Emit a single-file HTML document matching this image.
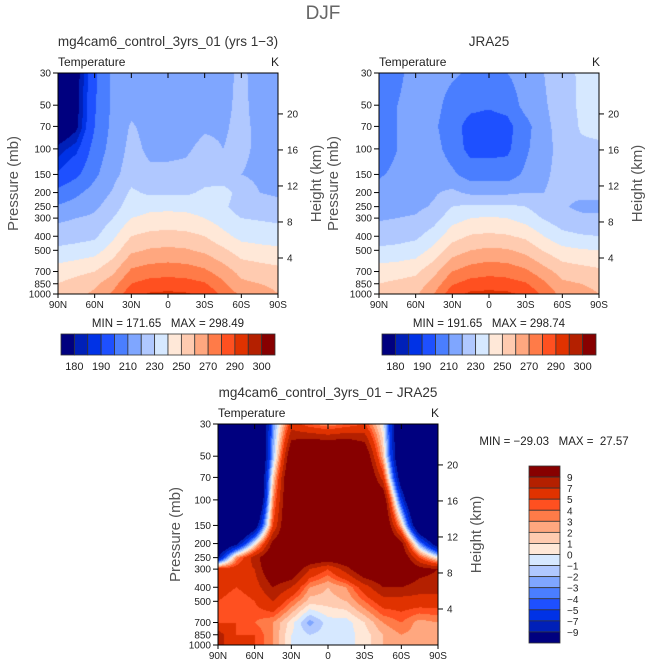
<!DOCTYPE html>
<html><head><meta charset="utf-8">
<style>
body{margin:0;background:#fff;width:647px;height:669px;overflow:hidden;position:relative;font-family:"Liberation Sans",sans-serif}
canvas{position:absolute}
svg{position:absolute;left:0;top:0}
</style></head>
<body>
<canvas id="c1" width="220" height="221" style="left:58px;top:73px"></canvas>
<canvas id="c2" width="220" height="221" style="left:379px;top:73px"></canvas>
<canvas id="c3" width="220" height="221" style="left:218px;top:424px"></canvas>
<svg id="s" width="647" height="669"></svg>
<script>
const lats=['90N','75N','60N','45N','30N','15N','0','15S','30S','45S','60S','75S','90S'];
const levels=[30,50,70,100,150,200,250,300,400,500,700,850,1000];
const pTicks=[30,50,70,100,150,200,250,300,400,500,700,850,1000];
const zTicks=[4,8,12,16,20];
const latTicks=['90N','60N','30N','0','30S','60S','90S'];
const tempLevels=[180,185,190,200,210,220,230,240,250,260,270,280,290,295,300];
const tempLabels=['180','190','210','230','250','270','290','300'];
const diffLevels=[-9,-7,-5,-4,-3,-2,-1,0,1,2,3,4,5,7,9];
const diffLabels=['9','7','5','4','3','2','1','0','−1','−2','−3','−4','−5','−7','−9'];
const palette=['#00007f','#0020b8','#0032e6','#1e50ff','#4a7eff','#7fa6ff','#b0c8ff','#d6e8ff','#ffe8d8','#ffcbb0','#ffa77f','#ff7b48','#ff5020','#e03200','#b42000','#870000'];
// rows = pressure levels (30..1000), cols = lats (90N..90S)
const model=[
[168,176,198,212,215,215,215,215,215,217,222,216,215],
[168,177,199,212,217,216,216,216,217,218,222,217,216],
[170,178,200,213,221,217,217,217,219,219,222,218,216],
[182,188,204,214,223,218,218,219,222,220,222,218,216],
[191,198,208,217,225,222,222,222,225,222,220,218,217],
[203,208,214,221,232,228,228,228,232,235,225,220,219],
[211,214,218,225,236,238,238,238,237,232,225,223,222],
[218,220,222,230,240,242,243,242,240,235,230,229,228],
[225,226,228,238,250,253,254,253,250,243,237,236,235],
[232,234,236,245,258,261,262,261,258,252,245,243,242],
[245,247,250,258,272,275,276,275,272,265,257,255,253],
[250,254,258,266,280,284,285,284,281,272,262,260,258],
[252,257,262,272,287,291,292,291,288,277,268,264,260]];
const jra=[
[207,207,215,215,212,208,208,210,215,220,225,232,234],
[208,210,216,214,205,202,201,203,214,219,224,232,234],
[207,210,216,212,203,197,196,197,206,218,223,231,233],
[205,210,216,214,205,197,197,198,208,218,222,228,228],
[209,212,216,217,212,205,205,205,212,219,222,224,225],
[213,215,217,219,222,218,218,218,220,220,222,222,223],
[216,217,218,221,230,232,232,232,230,224,221,218,217],
[219,220,221,226,236,240,241,240,236,229,224,222,222],
[225,226,228,235,246,251,252,251,248,240,233,231,230],
[232,233,235,243,255,260,262,261,257,249,243,241,240],
[245,246,248,257,270,275,277,276,272,264,256,254,252],
[250,252,254,264,279,284,285,284,281,272,262,260,258],
[252,255,258,270,287,292,293,292,288,277,267,263,260]];
const diff=[
[-20,-20,-20,-3,6,4,3,4,5,0,-15,-20,-20],
[-20,-20,-20,-2,12,15,15,15,12,2,-15,-20,-20],
[-20,-20,-20,1,14,18,18,18,14,6,-12,-20,-20],
[-20,-20,-20,3,14,20,20,20,14,12,-6,-20,-20],
[-20,-20,-12,5,14,18,18,18,14,14,2,-15,-20],
[-15,-10,0,10,12,12,12,12,14,14,10,-3,-12],
[-9,3,8,12,13,12,11,12,13,13,12,5,0],
[6,6,7,12,12,7,5,8,12,12,12,10,9],
[6,5,6,9,7,3,2,3,6,9,9,8,8],
[5,4,5,7,4,1.5,1.5,2,4,6,6,6,6],
[5,5,4,3,0.5,-2.5,-0.5,-0.5,1,3,4,2.5,3],
[8,5,5,3,0,-1,-0.5,-0.5,0.5,2,3,2.5,2],
[8,5,5,3,0,-1,-0.5,-0.5,0.5,2,3,2.5,2]];

const NS='http://www.w3.org/2000/svg';
const svg=document.getElementById('s');
function el(tag,attrs,parent){const e=document.createElementNS(NS,tag);for(const k in attrs)e.setAttribute(k,attrs[k]);(parent||svg).appendChild(e);return e;}
function txt(x,y,s,size,anchor,fill,rot){const t=el('text',{x:x,y:y,'font-size':size,'text-anchor':anchor||'middle',fill:fill||'#222','font-family':'Liberation Sans, sans-serif'});t.setAttribute('xml:space','preserve');t.style.whiteSpace='pre';if(rot)t.setAttribute('transform','rotate(-90 '+x+' '+y+')');t.textContent=s;return t;}
const LP0=Math.log(30),LP1=Math.log(1000);
function yOf(p,top,h){return top+(Math.log(p)-LP0)/(LP1-LP0)*h;}
function levIdx(v,lv){let i=0;while(i<lv.length&&v>=lv[i])i++;return i;}
function hex(c){return [parseInt(c.substr(1,2),16),parseInt(c.substr(3,2),16),parseInt(c.substr(5,2),16)];}
const rgb=palette.map(hex);
const lpl=levels.map(p=>Math.log(p));
function drawField(id,data,lv){
  const cv=document.getElementById(id),ctx=cv.getContext('2d');
  const W=cv.width,H=cv.height,img=ctx.createImageData(W,H);
  for(let py=0;py<H;py++){
    const lp=LP0+(py+0.5)/H*(LP1-LP0);
    let r=0;while(r<levels.length-2&&lp>lpl[r+1])r++;
    const fy=Math.min(1,Math.max(0,(lp-lpl[r])/(lpl[r+1]-lpl[r])));
    for(let px=0;px<W;px++){
      const lx=(px+0.5)/W*(lats.length-1);
      const c=Math.min(lats.length-2,Math.floor(lx)),fx=lx-c;
      const v=(data[r][c]*(1-fx)+data[r][c+1]*fx)*(1-fy)+(data[r+1][c]*(1-fx)+data[r+1][c+1]*fx)*fy;
      const col=rgb[levIdx(v,lv)],k=(py*W+px)*4;
      img.data[k]=col[0];img.data[k+1]=col[1];img.data[k+2]=col[2];img.data[k+3]=255;
    }
  }
  ctx.putImageData(img,0,0);
}
drawField('c1',model,tempLevels);
drawField('c2',jra,tempLevels);
drawField('c3',diff,diffLevels);

function axes(x0,y0,w,h,title,name,pressLabelX){
  const g=el('g',{});
  el('rect',{x:x0,y:y0,width:w,height:h,fill:'none',stroke:'#000','stroke-width':1},g);
  txt(x0+w/2,y0-27,title,13.5,'middle','#333');
  txt(x0,y0-7,'Temperature',12,'start','#222');
  txt(x0+w-3,y0-7,'K',12,'middle','#222');
  pTicks.forEach(p=>{const y=yOf(p,y0,h);
    el('line',{x1:x0-5,y1:y,x2:x0,y2:y,stroke:'#000'},g);
    txt(x0-7,y+3.5,String(p),10,'end','#222');});
  zTicks.forEach(z=>{const p=1000*Math.exp(-z/7),y=yOf(p,y0,h);
    el('line',{x1:x0+w,y1:y,x2:x0+w+5,y2:y,stroke:'#000'},g);
    txt(x0+w+9,y+3.5,String(z),10,'start','#222');});
  latTicks.forEach((l,i)=>{const x=x0+i*w/6;
    el('line',{x1:x,y1:y0+h,x2:x,y2:y0+h+4,stroke:'#000'},g);
    el('line',{x1:x,y1:y0,x2:x,y2:y0+5,stroke:'#000'},g);
    txt(x,y0+h+14,l,10,'middle','#222');});
  txt(pressLabelX,y0+h/2,'Pressure (mb)',15,'middle','#555',true);
  txt(x0+w+43,y0+h/2,'Height (km)',15,'middle','#555',true);
}
txt(323,19,'DJF',19,'middle','#666');
axes(58,73,220,221,'mg4cam6_control_3yrs_01 (yrs 1−3)','model',18);
axes(379,73,220,221,'JRA25','jra25',338);
axes(218,424,220,221,'mg4cam6_control_3yrs_01 − JRA25','difference',180);
txt(168,327,'MIN = 171.65   MAX = 298.49',11.5,'middle','#222');
txt(489,327,'MIN = 191.65   MAX = 298.74',11.5,'middle','#222');
txt(554,445,'MIN = −29.03   MAX =  27.57',11.5,'middle','#222');

function hbar(x0,y0,w,h,name){
  const g=el('g',{});
  const bw=w/palette.length;
  palette.forEach((c,i)=>{el('rect',{x:x0+i*bw,y:y0,width:bw,height:h,fill:c,stroke:'#333','stroke-width':0.8},g);});
  tempLabels.forEach((l,j)=>{const x=x0+(2*j+1)*bw;txt(x,y0+h+15,l,11,'middle','#222');});
}
hbar(61,334,214,21,'model-colorbar');
hbar(382,334,214,21,'jra25-colorbar');
(function(){
  const g=el('g',{});
  const x0=529,y0=466,w=31,h=177,bh=h/palette.length;
  palette.slice().reverse().forEach((c,i)=>{el('rect',{x:x0,y:y0+i*bh,width:w,height:bh,fill:c,stroke:'#333','stroke-width':0.8},g);});
  diffLabels.forEach((l,j)=>{const y=y0+(j+1)*bh;txt(x0+w+7,y+4,l,10,'start','#222');});
})();
</script>
</body></html>
